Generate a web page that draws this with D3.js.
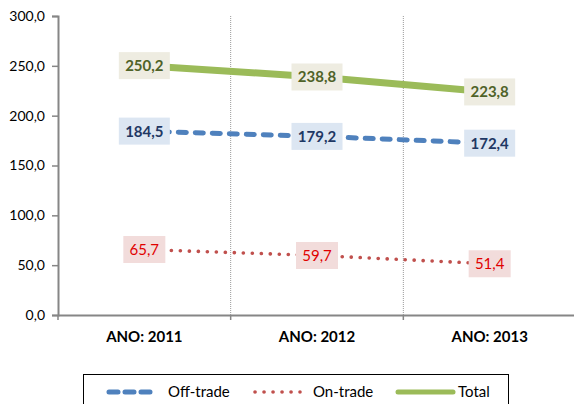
<!DOCTYPE html>
<html><head><meta charset="utf-8">
<script src="https://cdn.jsdelivr.net/npm/d3@7"></script>
<style>body{margin:0;background:#fff}svg{display:block}</style>
</head><body>
<script>
const categories = ["ANO: 2011", "ANO: 2012", "ANO: 2013"];
const offTrade = [184.5, 179.2, 172.4];
const onTrade = [65.7, 59.7, 51.4];
const total = [250.2, 238.8, 223.8];
const yTicks = [0, 50, 100, 150, 200, 250, 300];
const seriesNames = ["Off-trade", "On-trade", "Total"];

const W = 574, H = 404;
const svg = d3.select("body").append("svg").attr("width", W).attr("height", H);
const font = "Lato, 'Liberation Sans', sans-serif";

const x = d3.scaleBand().domain(categories).range([58, 576]).padding(0);
const y = d3.scaleLinear().domain([0, 300]).range([315, 16]);
const cx = c => x(c) + x.bandwidth() / 2;
const fmt = v => d3.format(".1f")(v).replace(".", ",");

// vertical dotted gridlines at category boundaries
svg.append("g").selectAll("line").data(categories.slice(1)).join("line")
  .attr("x1", d => x(d)).attr("x2", d => x(d))
  .attr("y1", y(300)).attr("y2", y(0))
  .attr("stroke", "#999").attr("stroke-width", 1).attr("stroke-dasharray", "1,1");

// y axis
const yAxis = svg.append("g").attr("transform", "translate(58,0)")
  .call(d3.axisLeft(y).tickValues(yTicks).tickFormat(fmt).tickSize(6).tickPadding(7));
yAxis.select(".domain").attr("stroke", "#868686").attr("stroke-width", 2);
yAxis.selectAll(".tick line").attr("stroke", "#868686").attr("stroke-width", 1.5);
yAxis.selectAll("text").attr("font-family", font).attr("font-size", 14).attr("fill", "#000");

// x axis
const xAxis = svg.append("g").attr("transform", "translate(0,315)")
  .call(d3.axisBottom(x).tickSize(0).tickSizeOuter(0).tickPadding(16));
xAxis.select(".domain").attr("stroke", "#868686").attr("stroke-width", 2);
xAxis.selectAll("text").attr("font-family", font).attr("font-size", 15).attr("font-weight", "bold").attr("fill", "#000");
svg.append("g").selectAll("line").data(categories).join("line")
  .attr("x1", d => x(d)).attr("x2", d => x(d))
  .attr("y1", 315).attr("y2", 320).attr("stroke", "#868686").attr("stroke-width", 1.5);

const series = [
  {name: seriesNames[0], values: offTrade, color: "#4F81BD", width: 5, dash: "8,9", cap: "round",
   bg: "#DCE6F2", fg: "#1F3864", bold: true},
  {name: seriesNames[1], values: onTrade, color: "#C0504D", width: 3.6, dash: "0.1,8.9", cap: "round",
   bg: "#F2DCDB", fg: "#E00000", bold: false},
  {name: seriesNames[2], values: total, color: "#9BBB59", width: 7, dash: null, cap: "butt",
   bg: "#EEECE1", fg: "#4F6228", bold: true}
];

const line = d3.line().x((d, i) => cx(categories[i])).y(d => y(d));
series.forEach(s => {
  svg.append("path").datum(s.values).attr("d", line).attr("fill", "none")
    .attr("stroke", s.color).attr("stroke-width", s.width)
    .attr("stroke-dasharray", s.dash).attr("stroke-linecap", s.cap);
});

// data labels
series.forEach(s => {
  const g = svg.append("g");
  s.values.forEach((v, i) => {
    const px = cx(categories[i]), py = y(v);
    const bw = s.bold ? 51 : 42, bh = 27;
    g.append("rect").attr("x", px - bw / 2).attr("y", py - bh / 2)
      .attr("width", bw).attr("height", bh).attr("fill", s.bg);
    g.append("text").attr("x", px).attr("y", py).attr("dy", "0.36em")
      .attr("text-anchor", "middle").attr("font-family", font)
      .attr("font-size", 15).attr("font-weight", s.bold ? "bold" : "normal")
      .attr("fill", s.fg).text(fmt(v));
  });
});

// legend
svg.append("rect").attr("x", 83.5).attr("y", 374.5).attr("width", 425).attr("height", 40)
  .attr("fill", "#fff").attr("stroke", "#000").attr("stroke-width", 1);
const legX = [[109, 153, 168], [255, 300, 313], [398, 453, 458]];
series.forEach((s, i) => {
  const [a, b, t] = legX[i];
  svg.append("line").attr("x1", a).attr("x2", b).attr("y1", 392).attr("y2", 392)
    .attr("stroke", s.color).attr("stroke-width", i === 2 ? 5 : s.width)
    .attr("stroke-dasharray", i === 0 ? "9,7" : s.dash).attr("stroke-linecap", i === 2 ? "round" : s.cap);
  svg.append("text").attr("x", t).attr("y", 392).attr("dy", "0.36em")
    .attr("font-family", font).attr("font-size", 15).attr("fill", "#000").text(s.name);
});
</script>
</body></html>
